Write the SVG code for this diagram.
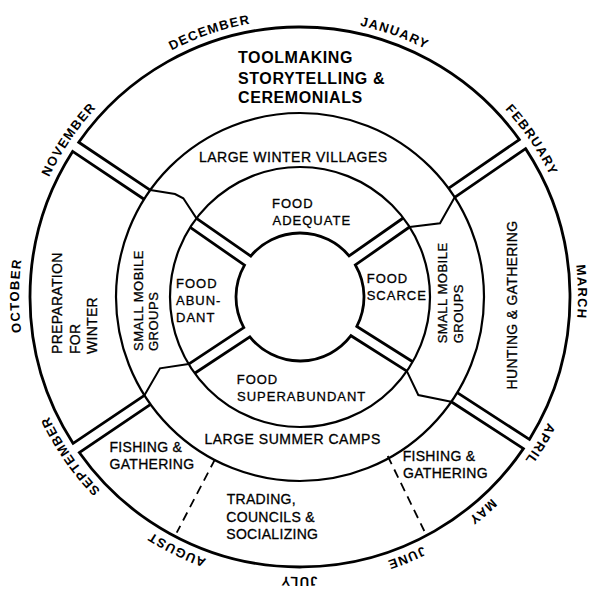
<svg xmlns="http://www.w3.org/2000/svg" width="591" height="591" viewBox="0 0 591 591">
<style>
.ln{fill:none;stroke:#000;stroke-linejoin:miter;stroke-linecap:butt}
.o{stroke-width:2.8}
.c{stroke-width:2.2}
.j{stroke-width:2}
.d{stroke-width:1.8;stroke-dasharray:9 6}
text{font-family:"Liberation Sans",Arial,Helvetica,sans-serif;fill:#000}
.big{font-weight:bold;font-size:16px;letter-spacing:0.6px}
.lab,.food,.sm,.band{stroke:#000;stroke-width:0.3px}
.lab{font-size:14px;letter-spacing:0.5px}
.food{font-size:13px;letter-spacing:1px}
.sm{font-size:13px;letter-spacing:0.5px}
.band{font-size:14px;letter-spacing:0.3px}
.m{font-weight:bold;font-size:13px;letter-spacing:1.2px}
</style>
<defs>
<path id="mp" d="M300,19 A278,278 0 1 1 300,575 A278,278 0 1 1 300,19 A278,278 0 1 1 300,575 A278,278 0 1 1 300,19"/>
</defs>
<rect width="591" height="591" fill="#fff"/>

<g id="rings" class="ln">
<circle class="c" cx="300" cy="297" r="184"/>
<circle class="c" cx="300" cy="297" r="130"/>
</g>

<g id="connectors" class="ln">
<path class="o" d="M150.22,190.11 L78.74,142.26 A270,270 0 0 1 519.34,139.58 L448.45,188.30"/>
<path class="o" d="M454.69,197.36 L525.58,148.64 A270,270 0 0 1 529.40,439.40 L457.25,392.55"/>
<path class="o" d="M451.25,401.77 L523.40,448.62 A270,270 0 0 1 79.30,452.51 L150.61,404.41"/>
<path class="o" d="M144.45,395.29 L73.14,443.39 A270,270 0 0 1 72.62,151.40 L144.10,199.25"/>
<path class="o" d="M196.50,218.36 L250.79,256.09 A64,64 0 0 1 349.08,255.92 L403.25,217.99"/>
<path class="o" d="M409.55,227.01 L355.38,264.94 A64,64 0 0 1 356.84,326.42 L412.73,361.76"/>
<path class="o" d="M406.85,371.06 L350.96,335.72 A64,64 0 0 1 249.87,336.78 L194.73,373.27"/>
<path class="o" d="M188.65,364.09 L243.79,327.60 A64,64 0 0 1 244.51,265.13 L190.22,227.40"/>
<path class="j" d="M150.22,190.11 L175,194 L183.3,198.3 L196.5,218.36"/>
<path class="j" d="M454.69,197.36 L440,223.3 L409.55,227.01"/>
<path class="j" d="M144.45,395.29 L160,368.3 L188.65,364.09"/>
<path class="j" d="M406.85,371.06 L418.3,395 L451.25,401.77"/>
<path class="d" d="M215,459.3 L176.7,532.7"/>
<path class="d" d="M387.7,456 L424.3,531"/>
</g>

<g id="months" class="m" text-anchor="middle">
<text class="m"><textPath href="#mp" startOffset="1654.5">DECEMBER</textPath></text>
<text class="m"><textPath href="#mp" startOffset="1841.8">JANUARY</textPath></text>
<text class="m"><textPath href="#mp" startOffset="2017">FEBRUARY</textPath></text>
<text class="m"><textPath href="#mp" startOffset="2177.6">MARCH</textPath></text>
<text class="m"><textPath href="#mp" startOffset="2335.3">APRIL</textPath></text>
<text class="m"><textPath href="#mp" startOffset="2423.1">MAY</textPath></text>
<text class="m"><textPath href="#mp" startOffset="2511.4">JUNE</textPath></text>
<text class="m" dy="-2"><textPath href="#mp" startOffset="2620.1">JULY</textPath></text>
<text class="m"><textPath href="#mp" startOffset="2745.3">AUGUST</textPath></text>
<text class="m"><textPath href="#mp" startOffset="2887.4">SEPTEMBER</textPath></text>
<text class="m" dy="-3"><textPath href="#mp" startOffset="3056.8">OCTOBER</textPath></text>
<text class="m"><textPath href="#mp" startOffset="3221.7">NOVEMBER</textPath></text>
</g>

<g id="toolmaking">
<text class="big" x="238" y="63.3">TOOLMAKING</text>
<text class="big" x="238" y="84">STORYTELLING &amp;</text>
<text class="big" x="238" y="103.3">CEREMONIALS</text>
</g>
<g id="winter-villages"><text class="lab" x="199" y="161.7">LARGE WINTER VILLAGES</text></g>
<g id="food-adequate">
<text class="food" x="272" y="208.3">FOOD</text>
<text class="food" x="272.5" y="225">ADEQUATE</text>
</g>
<g id="food-abundant">
<text class="food" x="176" y="288.3">FOOD</text>
<text class="food" x="176" y="304.8">ABUN-</text>
<text class="food" x="176" y="322">DANT</text>
</g>
<g id="food-scarce">
<text class="food" x="366.7" y="283.3">FOOD</text>
<text class="food" x="366.7" y="300">SCARCE</text>
</g>
<g id="food-superabundant">
<text class="food" x="236.7" y="383.8">FOOD</text>
<text class="food" x="237" y="400.5">SUPERABUNDANT</text>
</g>
<g id="summer-camps"><text class="lab" x="204.5" y="444">LARGE SUMMER CAMPS</text></g>
<g id="small-mobile-left">
<text class="sm" transform="translate(143,351) rotate(-90)">SMALL MOBILE</text>
<text class="sm" transform="translate(158,351) rotate(-90)">GROUPS</text>
</g>
<g id="small-mobile-right">
<text class="sm" transform="translate(447,343.3) rotate(-90)">SMALL MOBILE</text>
<text class="sm" transform="translate(463,343.3) rotate(-90)">GROUPS</text>
</g>
<g id="preparation">
<text class="band" transform="translate(61.7,354) rotate(-90)">PREPARATION</text>
<text class="band" transform="translate(80,354) rotate(-90)">FOR</text>
<text class="band" transform="translate(96.7,354) rotate(-90)">WINTER</text>
</g>
<g id="hunting"><text class="band" text-anchor="middle" transform="translate(516.7,305) rotate(-90)">HUNTING &amp; GATHERING</text></g>
<g id="fishing-left">
<text class="band" x="109.5" y="451.5">FISHING &amp;</text>
<text class="band" x="109.5" y="469">GATHERING</text>
</g>
<g id="fishing-right">
<text class="band" x="402.7" y="460.5">FISHING &amp;</text>
<text class="band" x="403" y="477.5">GATHERING</text>
</g>
<g id="trading">
<text class="band" x="226.7" y="503.7">TRADING,</text>
<text class="band" x="226.3" y="521.7">COUNCILS &amp;</text>
<text class="band" x="226.3" y="539.3">SOCIALIZING</text>
</g>
</svg>
